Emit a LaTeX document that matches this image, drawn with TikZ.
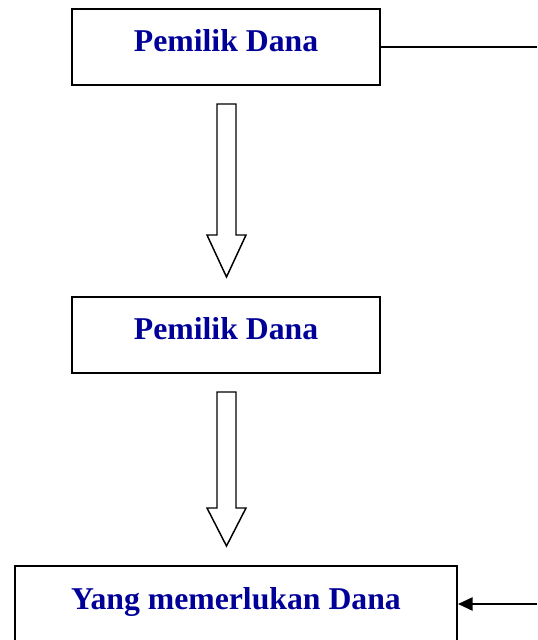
\documentclass[tikz,border=0pt]{standalone}
\usepackage{fontspec}
\setmainfont{Liberation Serif}
\usetikzlibrary{arrows.meta}

\definecolor{danablue}{RGB}{0,0,153}

\tikzset{every picture/.style={line width=0.75pt}}
\tikzset{
  danabox/.style={draw, line width=1.5pt, inner sep=0pt, text=danablue,
    font=\fontsize{23.8}{28}\selectfont\bfseries,
    text height=32pt, text depth=25pt},
  blockarrow/.style={draw, line width=1.1pt, line join=miter},
}

\begin{document}
\begin{tikzpicture}[x=0.75pt,y=0.75pt,yscale=-1,xscale=1]
	\useasboundingbox (0,0) rectangle (537,640);

	%Shape: Rectangle [id:pemilik1]
	\node [danabox, minimum width=231pt] (pemilik1) at (226,47) {Pemilik Dana};
	%Shape: Rectangle [id:pemilik2]
	\node [danabox, minimum width=231pt] (pemilik2) at (226,335) {Pemilik Dana};
	%Shape: Rectangle [id:perlu]
	\node [danabox, minimum width=331.5pt, text height=32.5pt, text depth=24.5pt] (perlu) at (236,604) {Yang memerlukan Dana};

	%Straight Lines [id:keluar]
	\coordinate (kanan1) at (537,47);
	\draw [line width=1.2pt] (pemilik1.east) -- (kanan1) ;
	%Straight Lines [id:masuk]
	\coordinate (kanan2) at (537,604);
	\draw [line width=1.2pt, -{Triangle[length=11pt,width=10pt]}] (kanan2) -- (perlu.east) ;

	%Shape: Down Arrow [id:panah1]
	\draw [blockarrow] (217,104) -- (236,104) -- (236,235) -- (246,235) -- (226.5,277) -- (207,235) -- (217,235) -- cycle ;
	%Shape: Down Arrow [id:panah2]
	\draw [blockarrow] (217,392) -- (236,392) -- (236,508) -- (246,508) -- (226.5,546) -- (207,508) -- (217,508) -- cycle ;

\end{tikzpicture}
\end{document}
